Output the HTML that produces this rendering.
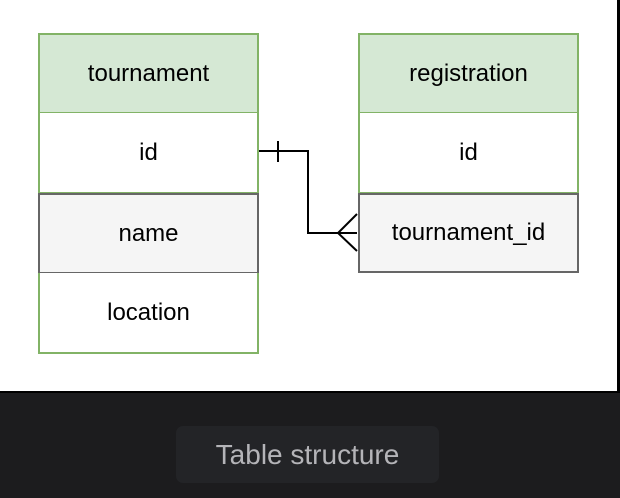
<!DOCTYPE html>
<html><head><style>
body{margin:0;width:620px;height:498px;background:#1c1c1e;position:relative;overflow:hidden;font-family:"Liberation Sans",Arial,sans-serif}
.white{position:absolute;left:0;top:0;width:617px;height:391px;background:#fff;border-right:3px solid #000;border-bottom:2px solid #000}
.c{position:absolute;box-sizing:border-box;display:flex;align-items:center;justify-content:center;font-size:24px;color:#000}
.lbl{position:absolute;left:176px;top:426px;width:263px;height:57px;background:#232427;border-radius:7px;color:#b4b4b8;font-size:28px;display:flex;align-items:center;justify-content:center}
</style></head><body>
<div class="white"></div>
<div class="c" style="left:38px;top:33px;width:221px;height:81px;background:#d5e8d4;border:2px solid #82b366">tournament</div>
<div class="c" style="left:38px;top:113px;width:221px;height:81px;background:#fff;border:2px solid #82b366;border-top:none">id</div>
<div class="c" style="left:38px;top:193px;width:221px;height:81px;background:#f5f5f5;border:2px solid #666">name</div>
<div class="c" style="left:38px;top:273px;width:221px;height:81px;background:#fff;border:2px solid #82b366;border-top:none">location</div>
<div class="c" style="left:358px;top:33px;width:221px;height:81px;background:#d5e8d4;border:2px solid #82b366">registration</div>
<div class="c" style="left:358px;top:113px;width:221px;height:81px;background:#fff;border:2px solid #82b366;border-top:none">id</div>
<div class="c" style="left:358px;top:193px;width:221px;height:80px;background:#f5f5f5;border:2px solid #666">tournament_id</div>
<svg style="position:absolute;left:0;top:0" width="620" height="498">
<path d="M259 151 H308 V233 H357" fill="none" stroke="#000" stroke-width="2"/>
<path d="M278 141 V162" stroke="#000" stroke-width="2"/>
<path d="M357 214 L338 233 L357 251" fill="none" stroke="#000" stroke-width="2"/>
</svg>
<div class="lbl">Table structure</div>
</body></html>
